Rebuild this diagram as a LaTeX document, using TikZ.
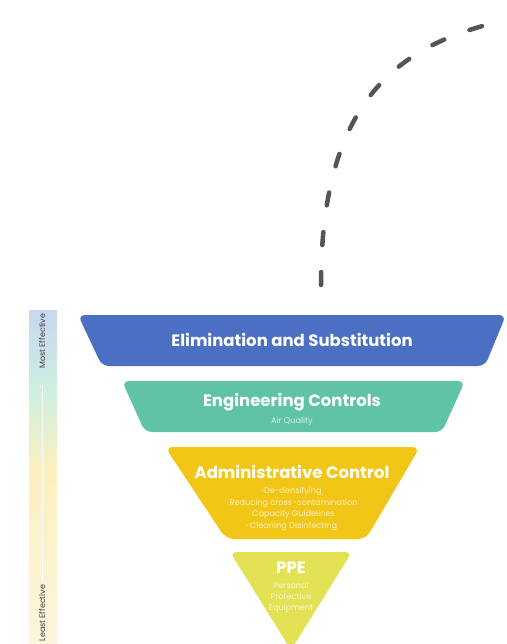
\documentclass[tikz,border=0pt]{standalone}
\usepackage{fontspec}
\setmainfont{Poppins}
\usepackage{xcolor}

\definecolor{elimblue}{HTML}{4B6FC1}
\definecolor{engteal}{HTML}{5FC3A5}
\definecolor{adminyellow}{HTML}{F2C616}
\definecolor{ppelime}{HTML}{E2E254}
\definecolor{dashgray}{HTML}{555555}
\definecolor{barblue}{HTML}{C9D6F0}
\definecolor{barmint}{HTML}{CDEFE0}
\definecolor{baryellow}{HTML}{FDF0BE}
\definecolor{barcream}{HTML}{FBF5DE}

\begin{document}
\begin{tikzpicture}
[
x=1pt, y=-1pt,
node distance=11.5pt,
layer title/.style={font=\bfseries\fontsize{16.5}{18}\selectfont, text=white, inner sep=1pt},
layer text/.style={font=\fontsize{8.2}{9}\selectfont, text=white, text opacity=0.75, inner sep=0.5pt},
bar text/.style={font=\fontsize{8}{9}\selectfont, text=darkgray, rotate=90, inner sep=1pt},
layer/.style={rounded corners=7pt}
]
\useasboundingbox (0,0) rectangle (506,644);

% effectiveness bar
\shade[top color=barblue, bottom color=barmint] (29,310) rectangle (57,390);
\shade[top color=barmint, bottom color=baryellow] (29,390) rectangle (57,470);
\shade[top color=baryellow, bottom color=barcream] (29,470) rectangle (57,644);
\node[bar text] (most) at (42,341) {Most Effective};
\node[bar text] (least) at (42,613) {Least Effective};
\draw[white, ->, shorten >=16pt, shorten <=3pt] (least.east) -- (most.west);

% layers
\fill[layer, elimblue] (78,315) -- (506,315) -- (485,366) -- (102,366) -- cycle;
\fill[layer, engteal] (122,381) -- (465,381) -- (442,432) -- (145,432) -- cycle;
\fill[layer, adminyellow, rounded corners=8pt] (165,447) -- (420,447) -- (366,539) -- (226,539) -- cycle;
\fill[layer, ppelime] (230,552) -- (352,552) -- (291,650) -- cycle;

% elimination
\node[layer title] (elim) at (292,340) {Elimination and Substitution};

% engineering
\node[layer title] (eng) at (292,402) {Engineering Controls};
\node[layer text, below of=eng, yshift=-8pt] (eng1) {Air Quality};

% administrative
\node[layer title] (admin) at (292,472) {Administrative Control};
\node[layer text, below of=admin, yshift=-8pt] (admin1) {·De-densifying};
\node[layer text, below of=admin1] (admin2) {·\,Reducing cross-contamination};
\node[layer text, below of=admin2] (admin3) {·\,Capacity Guidelines};
\node[layer text, below of=admin3] (admin4) {·\,Cleaning Disinfecting};

% ppe
\node[layer title] (ppe) at (291,568) {PPE};
\node[layer text, below of=ppe, yshift=-5.5pt] (ppe1) {Personal};
\node[layer text, below of=ppe1] (ppe2) {Protective};
\node[layer text, below of=ppe2] (ppe3) {Equipment};

% dashed curl
\coordinate (curl start) at (490,24);
\coordinate (curl end) at (321,285);
\draw[dashgray, line width=4.5pt, line cap=round, dash pattern=on 13pt off 27pt]
  (curl end) .. controls (321,110) and (390,50) .. (curl start);

\end{tikzpicture}
\end{document}
